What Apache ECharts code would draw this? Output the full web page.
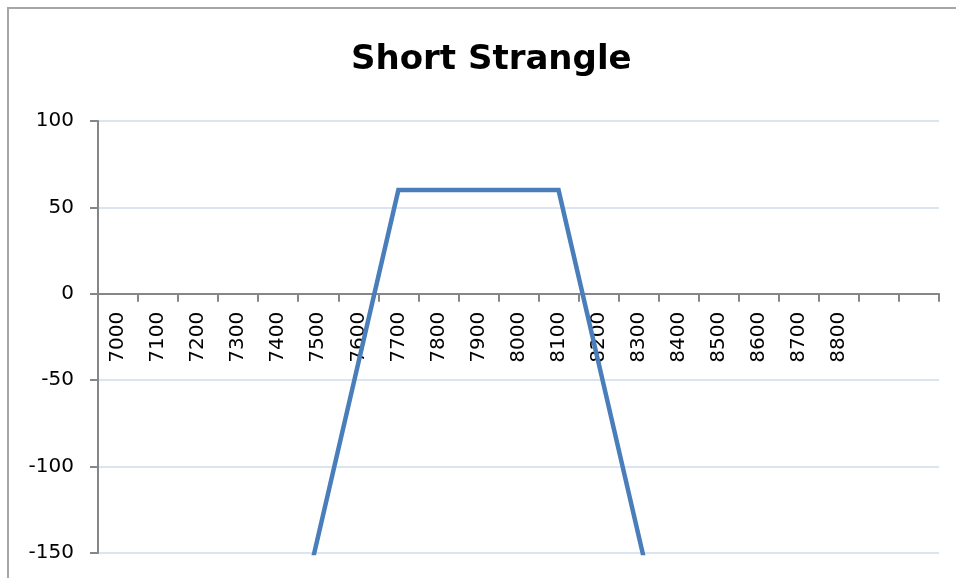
<!DOCTYPE html>
<html>
<head>
<meta charset="utf-8">
<script src="https://cdn.jsdelivr.net/npm/echarts@6/dist/echarts.min.js"></script>
<style>
  html, body { margin: 0; padding: 0; background: #fff; }
  #chart { width: 956px; height: 578px; }
</style>
</head>
<body>
<div id="chart"></div>
<script>
// Underlying price at expiry (last two rows carry no label)
const strikes = ['7000', '7100', '7200', '7300', '7400', '7500', '7600', '7700', '7800', '7900',
                 '8000', '8100', '8200', '8300', '8400', '8500', '8600', '8700', '8800', '', ''];
// Profit / loss of the short strangle at each price
const payoff = [-640, -540, -440, -340, -240, -140, -40, 60, 60, 60,
                60, 60, -40, -140, -240, -340, -440, -540, -640, null, null];
// Value axis range
const yMin = -150, yMax = 100, yStep = 50;

const W = 956, H = 578;
const gridBox = { left: 98, right: 17, top: 121, bottom: 25 };
const plotH = H - gridBox.top - gridBox.bottom;
// lift the category axis (line, ticks and labels) from the bottom edge up to the zero line
const zeroLift = -plotH * (0 - yMin) / (yMax - yMin);

const chart = echarts.init(document.getElementById('chart'), null, { renderer: 'canvas' });
const axisGray = '#868686';
const gridBlue = '#dbe5f1';

chart.setOption({
  animation: false,
  backgroundColor: '#ffffff',
  title: {
    text: 'Short Strangle',
    left: 346,
    top: 38,
    textStyle: { fontFamily: 'DejaVu Sans', fontWeight: 'bold', fontSize: 34, color: '#000' }
  },
  graphic: [{
    type: 'polyline',
    shape: { points: [[8, H], [8, 8], [W, 8]] },
    style: { stroke: '#a6a6a6', lineWidth: 2, fill: null },
    silent: true
  }],
  grid: Object.assign({ containLabel: false, outerBoundsMode: 'none' }, gridBox),
  xAxis: {
    type: 'category',
    data: strikes,
    boundaryGap: true,
    position: 'bottom',
    offset: zeroLift,
    axisLine: { onZero: false, lineStyle: { color: axisGray, width: 2 } },
    axisTick: { show: true, inside: false, length: 8, alignWithLabel: false, interval: 0,
                lineStyle: { color: axisGray, width: 2 } },
    axisLabel: { interval: 0, rotate: 90, margin: 18, color: '#000',
                 fontFamily: 'DejaVu Sans', fontSize: 20, hideOverlap: false },
    splitLine: { show: false }
  },
  yAxis: {
    type: 'value',
    min: yMin, max: yMax, interval: yStep,
    axisLine: { show: true, onZero: false, lineStyle: { color: axisGray, width: 2 } },
    axisTick: { show: true, length: 8, lineStyle: { color: axisGray, width: 2 } },
    axisLabel: { margin: 24, color: '#000', fontFamily: 'DejaVu Sans', fontSize: 20 },
    splitLine: { show: true, lineStyle: { color: gridBlue, width: 2 } }
  },
  series: [{
    type: 'line',
    data: payoff,
    symbol: 'none',
    clip: true,
    connectNulls: false,
    z: 5,
    lineStyle: { color: '#4a7ebb', width: 4.5, join: 'miter' },
    itemStyle: { color: '#4a7ebb' }
  }]
});
</script>
</body>
</html>
